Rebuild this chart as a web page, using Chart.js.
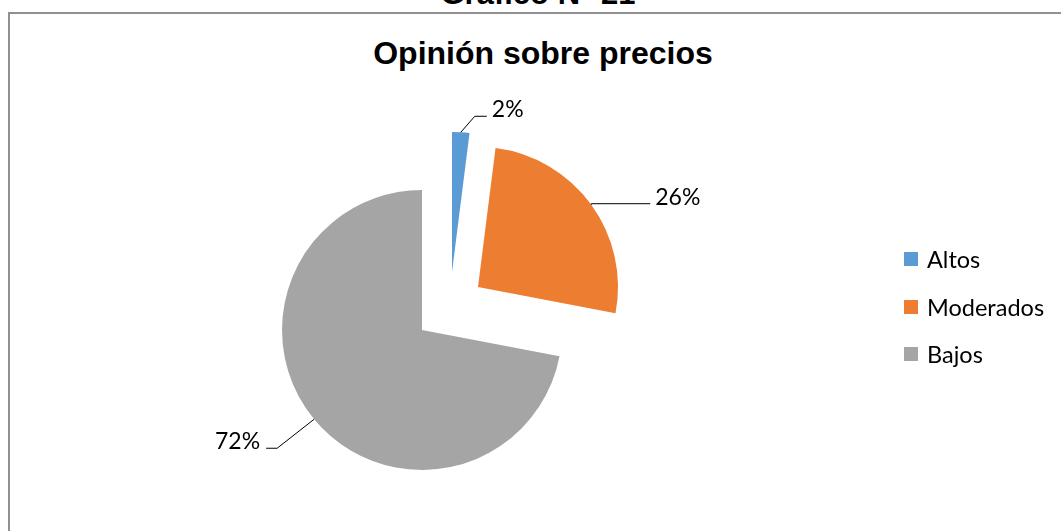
<!DOCTYPE html>
<html lang="es">
<head>
<meta charset="utf-8">
<title>Opinión sobre precios</title>
<script src="https://cdn.jsdelivr.net/npm/chart.js@4.4.1/dist/chart.umd.min.js"></script>
<style>
  html, body { margin: 0; padding: 0; background: #fff; }
  body { width: 1061px; height: 531px; overflow: hidden; position: relative; }
  #caption {
    position: absolute; left: 0; width: 1076px; top: -22px;
    text-align: center; font: bold 31px "Liberation Sans", Arial, sans-serif;
    line-height: 31px; color: #000; white-space: nowrap;
  }
  #frame {
    position: absolute; left: 8px; top: 12px; width: 1100px; height: 600px;
    border-top: 2px solid #909090; border-left: 2px solid #909090;
  }
  #title {
    position: absolute; left: 0; width: 1086px; top: 37px;
    text-align: center; font: bold 32px "Liberation Sans", Arial, sans-serif;
    line-height: 32px; color: #000; white-space: nowrap;
  }
  #chartBox { position: absolute; left: 0; top: 0; width: 1061px; height: 531px; }
  #legend { position: absolute; left: 904px; top: 235px; font: 23.5px Lato, "Open Sans", sans-serif; color: #000; }
  .item { display: flex; align-items: center; height: 48px; margin-bottom: -0.5px; white-space: nowrap; }
  .swatch { width: 14px; height: 14px; margin-right: 9px; }
</style>
</head>
<body>
<div id="caption">Gráfico N° 21</div>
<div id="frame"></div>
<div id="title">Opinión sobre precios</div>
<div id="chartBox"><canvas id="myChart" width="1061" height="531"></canvas></div>
<div id="legend"></div>

<script>
// Survey answers, in percent
const categories = ['Altos', 'Moderados', 'Bajos'];
const percentages = [2, 26, 72];
const sliceColors = ['#5B9BD5', '#ED7D31', '#A5A5A5'];

// How far each slice is pulled out of the pie, in px (x, y)
const sliceShift = [[30, -58], [56, -43], [0, 0]];

// Leader line for each label: elbow relative to the slice edge, then a horizontal tail
const leaders = [
  { elbow: [14, -16], tail: 12 },
  { elbow: [0, -1], tail: 59 },
  { elbow: [-37, 29], tail: -11 }
];

// Build the legend next to the pie
const legendBox = document.getElementById('legend');
categories.forEach((name, i) => {
  const row = document.createElement('div');
  row.className = 'item';
  const sw = document.createElement('span');
  sw.className = 'swatch';
  sw.style.background = sliceColors[i];
  row.appendChild(sw);
  row.appendChild(document.createTextNode(name));
  legendBox.appendChild(row);
});

// Moves the exploded slices after the controller has laid them out
const explodePlugin = {
  id: 'explodeSlices',
  afterDatasetsUpdate(chart) {
    const meta = chart.getDatasetMeta(0);
    meta.data.forEach((arc, i) => {
      arc.x += sliceShift[i][0];
      arc.y += sliceShift[i][1];
    });
  }
};

// Percent labels with leader lines from the middle of each slice's rim
const labelPlugin = {
  id: 'sliceLabels',
  afterDatasetsDraw(chart) {
    const ctx = chart.ctx;
    const meta = chart.getDatasetMeta(0);
    ctx.save();
    ctx.strokeStyle = '#000';
    ctx.lineWidth = 1;
    ctx.fillStyle = '#000';
    ctx.font = '23px Lato, "Open Sans", sans-serif';
    ctx.textBaseline = 'alphabetic';
    meta.data.forEach((arc, i) => {
      const mid = (arc.startAngle + arc.endAngle) / 2;
      const sx = arc.x + Math.cos(mid) * arc.outerRadius;
      const sy = arc.y + Math.sin(mid) * arc.outerRadius;
      const ex = sx + leaders[i].elbow[0];
      const ey = sy + leaders[i].elbow[1];
      const tx = ex + leaders[i].tail;
      ctx.beginPath();
      ctx.moveTo(sx, sy);
      ctx.lineTo(ex, ey);
      ctx.lineTo(tx, ey);
      ctx.stroke();
      const text = percentages[i] + '%';
      if (leaders[i].tail >= 0) {
        ctx.textAlign = 'left';
        ctx.fillText(text, tx + 5, ey + 1);
      } else {
        ctx.textAlign = 'right';
        ctx.fillText(text, tx - 6, ey + 1);
      }
    });
    ctx.restore();
  }
};

const ctx = document.getElementById('myChart').getContext('2d');
window.myChart = new Chart(ctx, {
  type: 'pie',
  data: {
    labels: categories,
    datasets: [{
      data: percentages,
      backgroundColor: sliceColors,
      borderWidth: 0
    }]
  },
  options: {
    responsive: false,
    animation: false,
    events: [],
    radius: 140,
    layout: { padding: { left: 0, right: 217, top: 129, bottom: 0 } },
    plugins: {
      legend: { display: false },
      title: { display: false },
      tooltip: { enabled: false }
    }
  },
  plugins: [explodePlugin, labelPlugin]
});
</script>
</body>
</html>
